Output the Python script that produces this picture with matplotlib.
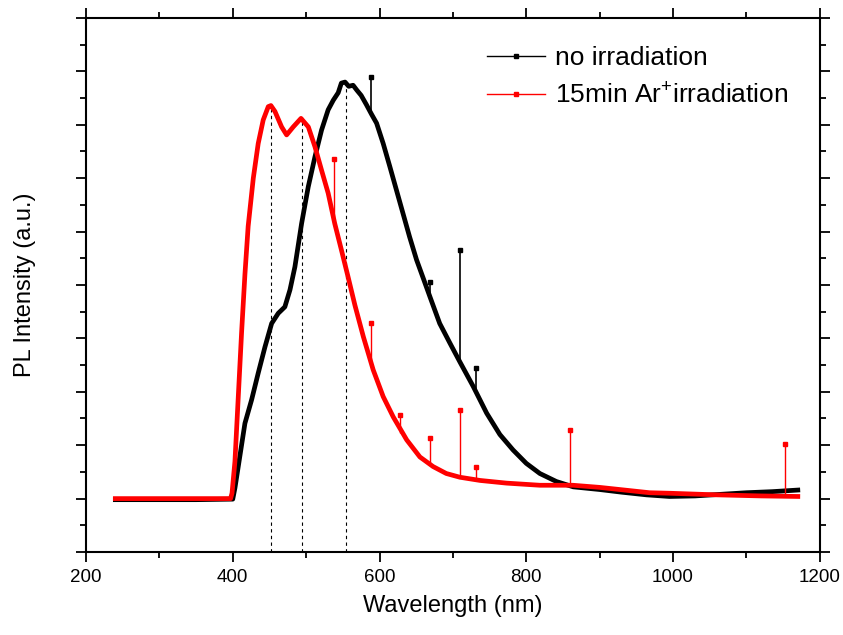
import numpy as np
import matplotlib
matplotlib.use("Agg")
import matplotlib.pyplot as plt
from matplotlib.lines import Line2D
from matplotlib.ticker import MultipleLocator, NullFormatter

plt.rcParams['font.family'] = ['Liberation Sans', 'DejaVu Sans']
plt.rcParams['mathtext.fontset'] = 'custom'
plt.rcParams['mathtext.rm'] = 'Liberation Sans'
plt.rcParams['mathtext.it'] = 'Liberation Sans'
plt.rcParams['mathtext.bf'] = 'Liberation Sans'

# PL spectra (arbitrary units)
wl_black = [240, 300, 350, 400, 403, 407.5, 412, 416.6, 425.7, 434.7, 443.9, 453,
            462, 471, 478, 484.7, 493.8, 502.9, 512, 521, 530, 537, 543.7, 548, 553,
            558, 564, 569, 575, 582, 589, 596, 605, 614, 623, 632, 641, 650.5, 659.5,
            668.7, 682, 696, 709.5, 727.7, 746, 764, 782, 800, 818.5, 841, 864, 900,
            930, 964, 995, 1030, 1065, 1100, 1135, 1170]
int_black = [0.98, 0.98, 0.98, 0.99, 1.2, 1.6, 2.0, 2.41, 2.85, 3.35, 3.84, 4.28,
             4.47, 4.59, 4.91, 5.34, 6.15, 6.84, 7.40, 7.90, 8.28, 8.46, 8.60, 8.78,
             8.80, 8.72, 8.74, 8.65, 8.55, 8.38, 8.20, 8.03, 7.65, 7.22, 6.78, 6.34,
             5.90, 5.47, 5.13, 4.78, 4.28, 3.91, 3.56, 3.10, 2.60, 2.20, 1.91, 1.66,
             1.47, 1.32, 1.22, 1.17, 1.12, 1.07, 1.04, 1.05, 1.08, 1.11, 1.13, 1.16]

wl_red = [240, 300, 350, 397, 399, 403, 407.5, 412, 416.6, 421, 428, 434.7, 441.5,
          448.4, 452, 457.5, 466.6, 473.4, 482.4, 493, 503, 512, 521, 530, 539, 548,
          557, 566.5, 578, 591.4, 605, 618.7, 637, 655, 673, 691, 709.5, 737, 773,
          818.5, 863.5, 900, 968, 996, 1060, 1120, 1170]
int_red = [1.0, 1.0, 1.0, 1.0, 1.1, 1.7, 2.9, 4.1, 5.2, 6.1, 7.0, 7.65, 8.09, 8.34,
           8.36, 8.25, 7.96, 7.81, 7.96, 8.12, 7.96, 7.59, 7.15, 6.72, 6.15, 5.66,
           5.16, 4.62, 4.03, 3.41, 2.91, 2.53, 2.10, 1.78, 1.60, 1.47, 1.40, 1.34,
           1.29, 1.25, 1.25, 1.21, 1.11, 1.10, 1.07, 1.05, 1.04]

# narrow spikes (single-point artefacts)
spike_black_wl = [588, 669, 709, 731]
spike_black_base = [8.28, 4.75, 3.60, 3.0]
spike_black_top = [8.90, 5.05, 5.65, 3.45]

spike_red_wl = [538, 589, 628, 669, 709, 731, 859, 1152]
spike_red_base = [6.16, 3.54, 2.22, 1.66, 1.44, 1.38, 1.25, 1.05]
spike_red_top = [7.35, 4.28, 2.57, 2.13, 2.66, 1.60, 2.28, 2.02]

# peak guide lines
peak_wl = [452, 494, 554]
peak_top = [8.34, 8.15, 8.71]

fig = plt.figure(figsize=(8.43, 6.35), dpi=100)
ax = fig.add_axes([0.102, 0.1307, 0.8705, 0.841])

ax.vlines(peak_wl, 0, peak_top, colors="black", linestyles=(0, (3, 3)), linewidth=0.8, zorder=1)

ax.plot(wl_black, int_black, color="black", lw=3.4, solid_joinstyle="round", zorder=3)
ax.plot(wl_red, int_red, color="#ff0000", lw=3.4, solid_joinstyle="round", zorder=4)

ax.vlines(spike_black_wl, spike_black_base, spike_black_top, colors="black", linewidth=1.2, zorder=3)
ax.plot(spike_black_wl, spike_black_top, 's', color="black", ms=3, zorder=3)
ax.vlines(spike_red_wl, spike_red_base, spike_red_top, colors="#ff0000", linewidth=1.0, zorder=4)
ax.plot(spike_red_wl, spike_red_top, 's', color="#ff0000", ms=3, zorder=4)

ax.set_xlim(200, 1200)
ax.set_ylim(0, 10)
ax.xaxis.set_major_locator(MultipleLocator(200))
ax.xaxis.set_minor_locator(MultipleLocator(100))
ax.yaxis.set_major_locator(MultipleLocator(1))
ax.yaxis.set_minor_locator(MultipleLocator(0.5))
ax.yaxis.set_major_formatter(NullFormatter())
ax.tick_params(which="both", direction="out", top=True, right=True, width=1.3)
ax.tick_params(which="major", length=7, labelsize=13.5, pad=5)
ax.tick_params(which="minor", length=4)
for s in ax.spines.values():
    s.set_linewidth(1.5)

ax.set_xlabel("Wavelength (nm)", fontsize=17, labelpad=7)
ax.set_ylabel("PL Intensity (a.u.)", fontsize=17, labelpad=24)

handles = [
    Line2D([], [], color="black", lw=1, marker="s", ms=3),
    Line2D([], [], color="#ff0000", lw=1, marker="s", ms=3),
]
ax.legend(handles, ["no irradiation", "15min Ar$^{+}$irradiation"],
          loc="upper left", bbox_to_anchor=(0.546, 0.948), frameon=False,
          fontsize=19, handlelength=2.2, handletextpad=0.4, labelspacing=0.5,
          borderpad=0, borderaxespad=0)

fig.savefig("out.png", dpi=100)
